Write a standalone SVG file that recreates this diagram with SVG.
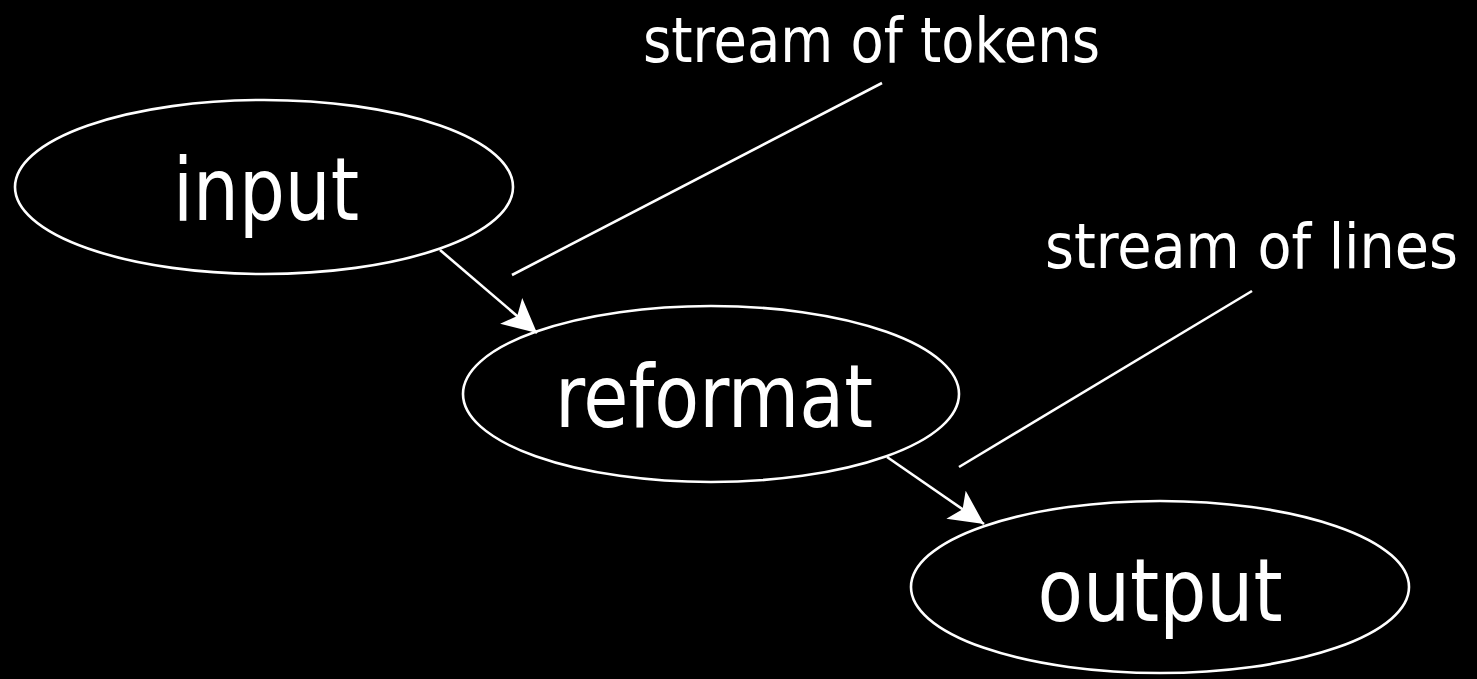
<svg xmlns="http://www.w3.org/2000/svg" width="1477" height="679" viewBox="0 0 1477 679">
<style>
.node ellipse{fill:#000;stroke:#fff;stroke-width:2.6}
.big{font-family:"DejaVu Sans Condensed","DejaVu Sans",sans-serif;font-stretch:condensed;font-size:88px;fill:#fff;text-anchor:middle}
.lbl{font-family:"DejaVu Sans Condensed","DejaVu Sans",sans-serif;font-stretch:condensed;font-size:63px;fill:#fff}
.conn line{stroke:#fff;stroke-width:2.6;fill:none}
</style>
<defs>
<marker id="ah" viewBox="0 0 36 34" refX="35" refY="17" markerWidth="36" markerHeight="34" markerUnits="userSpaceOnUse" orient="auto">
<path d="M35,17 L1,0 L9,17 L1,34 Z" fill="#fff"/>
</marker>
</defs>
<rect width="1477" height="679" fill="#000"/>
<g id="input" class="node">
<ellipse cx="264" cy="187" rx="249" ry="87"/>
<text class="big" x="266" y="220" textLength="186" lengthAdjust="spacingAndGlyphs">input</text>
</g>
<g id="reformat" class="node">
<ellipse cx="711" cy="394" rx="248" ry="88"/>
<text class="big" x="714" y="427" textLength="318" lengthAdjust="spacingAndGlyphs">reformat</text>
</g>
<g id="output" class="node">
<ellipse cx="1160" cy="587" rx="249" ry="86"/>
<text class="big" x="1160" y="621" textLength="245" lengthAdjust="spacingAndGlyphs">output</text>
</g>
<g id="connectors" class="conn">
<line x1="440" y1="250" x2="537" y2="333" marker-end="url(#ah)"/>
<line x1="887" y1="457" x2="984" y2="524" marker-end="url(#ah)"/>
<line x1="512" y1="275" x2="882" y2="83"/>
<line x1="959" y1="467" x2="1252" y2="291"/>
</g>
<g id="labels">
<text class="lbl" x="643" y="62" textLength="457" lengthAdjust="spacingAndGlyphs">stream of tokens</text>
<text class="lbl" x="1045" y="268" textLength="413" lengthAdjust="spacingAndGlyphs">stream of lines</text>
</g>
</svg>
